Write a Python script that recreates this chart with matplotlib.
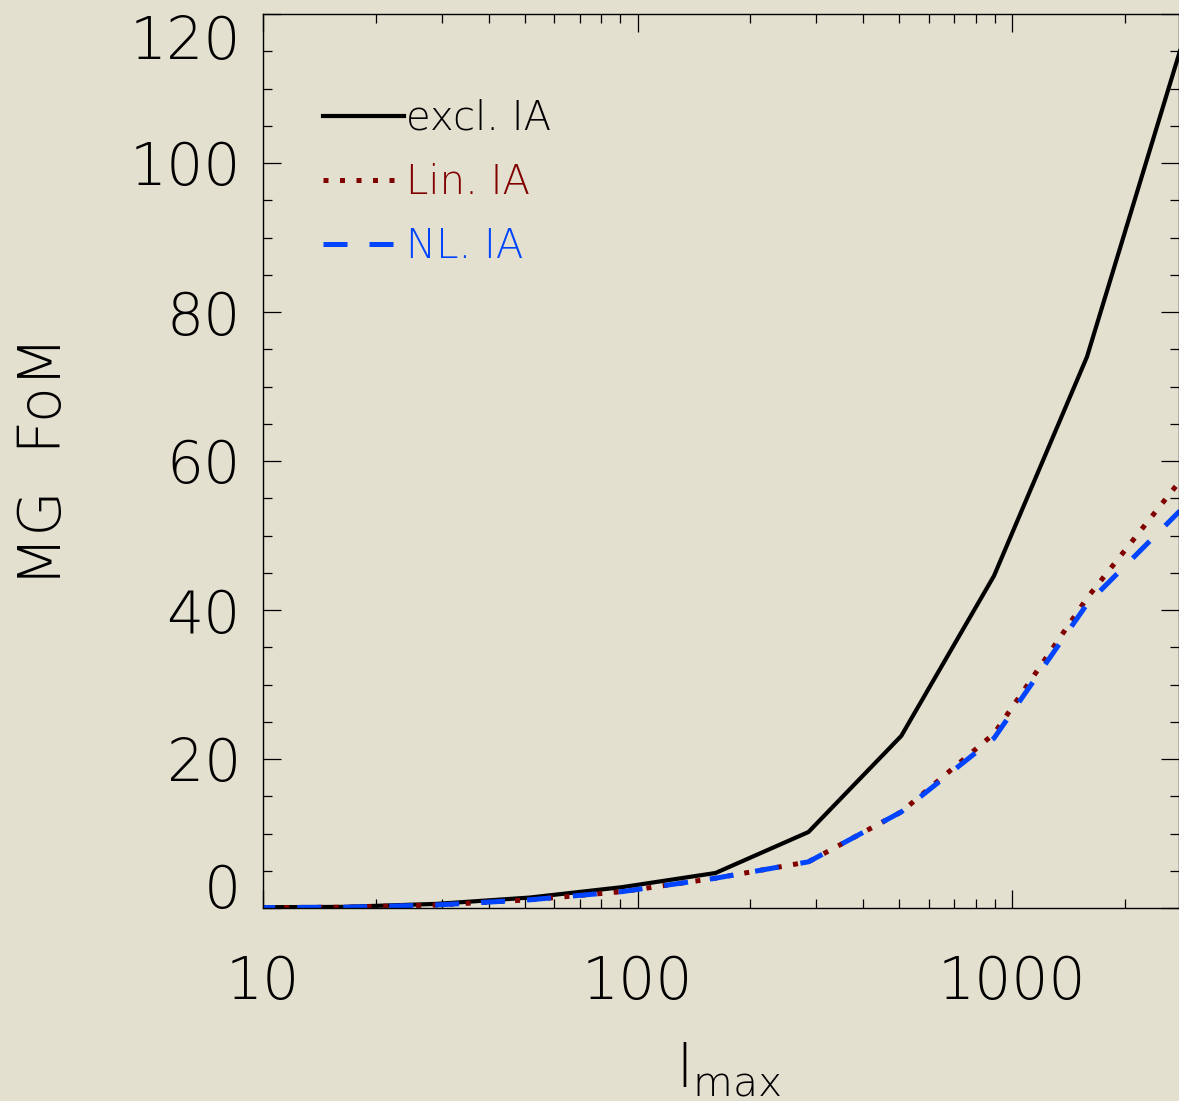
import matplotlib
matplotlib.use('Agg')
import matplotlib.pyplot as plt
from matplotlib.ticker import FixedLocator, NullFormatter, FixedFormatter

# ---- data ----
lmax = [9.3, 16.4, 29.0, 51.5, 91.0, 161.5, 286.0, 506.0, 895.0, 1585.0, 2805.0]
fom_excl = [0.1, 0.15, 0.55, 1.4, 2.8, 4.7, 10.2, 23.1, 44.6, 74.0, 115.0]
fom_lin = [0.05, 0.1, 0.4, 1.1, 2.2, 4.0, 6.2, 12.9, 23.4, 41.6, 57.3]
fom_nl = [0.05, 0.1, 0.4, 1.1, 2.2, 4.0, 6.2, 12.9, 22.8, 40.8, 53.3]
labels = ['excl. IA', 'Lin. IA', 'NL. IA']
xticks = [10, 100, 1000]
xtick_labels = ['10', '100', '1000']
yticks = [0, 20, 40, 60, 80, 100, 120]
ytick_labels = ['0', '20', '40', '60', '80', '100', '120']

BG = '#E3E0CF'
RED = '#800000'
BLUE = '#0044FF'

plt.rcParams['font.family'] = ['DejaVu Sans']
plt.rcParams['font.weight'] = 'light'
plt.rcParams['axes.labelweight'] = 'light'
plt.rcParams['mathtext.fontset'] = 'custom'
plt.rcParams['mathtext.rm'] = 'DejaVu Sans:light'
plt.rcParams['mathtext.default'] = 'rm'

fig = plt.figure(figsize=(11.79, 11.01), dpi=100, facecolor=BG)
ax = fig.add_axes([263/1179, 1 - 908/1101, 1 - 263/1179, (908 - 14)/1101])
ax.set_facecolor(BG)

ax.plot(lmax, fom_excl, color='black', lw=3.0, solid_joinstyle='miter', label=labels[0])
ax.plot(lmax, fom_lin, color=RED, lw=3.6, linestyle=(0, (1.0, 2.3)), dash_capstyle='butt', label=labels[1])
ax.plot(lmax, fom_nl, color=BLUE, lw=3.6, linestyle=(0, (4.8, 4.4)), dash_capstyle='butt', label=labels[2])

ax.set_xscale('log')
ax.set_xlim(10, 2790)
ax.set_ylim(0, 120)

ax.xaxis.set_major_locator(FixedLocator(xticks))
ax.xaxis.set_major_formatter(FixedFormatter(xtick_labels))
minor_x = [m * d for d in (10, 100, 1000) for m in range(2, 10) if m * d < 2790]
ax.xaxis.set_minor_locator(FixedLocator(minor_x))
ax.xaxis.set_minor_formatter(NullFormatter())
ax.yaxis.set_major_locator(FixedLocator(yticks))
ax.yaxis.set_major_formatter(FixedFormatter(ytick_labels))
ax.yaxis.set_minor_locator(FixedLocator(list(range(0, 121, 5))))

for s in ax.spines.values():
    s.set_linewidth(1.0)

ax.tick_params(which='both', direction='in', top=True, right=True, width=0.9, colors='black')
ax.tick_params(which='major', length=13)
ax.tick_params(which='minor', length=6.5)
ax.tick_params(axis='x', which='major', pad=33, labelsize=42)
ax.tick_params(axis='y', which='major', pad=16, labelsize=42)

fig.canvas.draw()
ylabs = ax.yaxis.get_majorticklabels()
ylabs[0].set_verticalalignment('baseline')
ylabs[-1].set_verticalalignment('top')

ax.set_ylabel('MG  FoM', fontsize=42, fontweight='light')
ax.yaxis.set_label_coords(-0.207, 0.5)
ax.set_xlabel('l$_{max}$', fontsize=42, fontweight='light', va='top')
ax.xaxis.set_label_coords(0.509, -0.148)

leg = ax.legend(loc='upper left', bbox_to_anchor=(0.0655, 0.905), frameon=False,
                prop={'size': 29, 'weight': 'light'}, handlelength=2.0, handletextpad=0.05,
                labelspacing=0.62, borderpad=0, borderaxespad=0, labelcolor='linecolor')

fig.savefig('out.png', dpi=100, facecolor=BG)
